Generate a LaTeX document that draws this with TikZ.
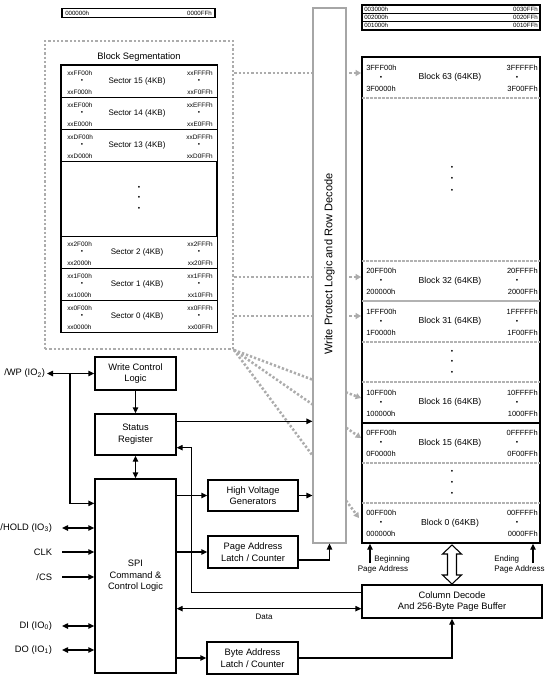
\documentclass[tikz,border=0pt]{standalone}
\usepackage{fontspec}
\setmainfont{Liberation Sans}
\usetikzlibrary{arrows.meta,calc}
\newcommand{\fs}[1]{\fontsize{#1}{#1}\selectfont}
\newcommand{\secrow}[7]{%
  \node[secbox, anchor=north west] (#1) at (61,#2) {};
  \node[saddr, anchor=west] (#1-lt) at (67,#2+8) {#4};
  \node[saddr] (#1-ld) at (82,#2+16.5) {•};
  \node[saddr, anchor=west] (#1-lb) at (67,#2+27) {#5};
  \node[saddr, anchor=east] (#1-rt) at (213,#2+8) {#6};
  \node[saddr] (#1-rd) at (199,#2+16.5) {•};
  \node[saddr, anchor=east] (#1-rb) at (213,#2+27) {#7};
  \node[slabel] (#1-lab) at (137,#2+16.5) {#3};
}
\newcommand{\blkrow}[7]{%
  \node[baddr, anchor=west] (#1-lt) at (366,#2-10) {#4};
  \node[bdot] (#1-ld) at (381,#2) {•};
  \node[baddr, anchor=west] (#1-lb) at (366,#2+11) {#5};
  \node[baddr, anchor=east] (#1-rt) at (538,#2-10) {#6};
  \node[bdot] (#1-rd) at (517,#2) {•};
  \node[baddr, anchor=east] (#1-rb) at (538,#2+11) {#7};
  \node[blabel] (#1-lab) at (450,#2) {#3};
}
\begin{document}
\begin{tikzpicture}[x=0.75pt,y=-0.75pt,
 box/.style={draw, fill=white, line width=1pt, align=center, inner sep=0pt, font=\fontsize{7}{8.7}\selectfont},
 arr/.style={line width=1pt, -{Triangle[length=4.5pt,width=4pt]}},
 darr/.style={line width=1pt, {Triangle[length=4.5pt,width=4pt]}-{Triangle[length=4.5pt,width=4pt]}},
 dotln/.style={draw=gray!65, line width=1.9pt, dash pattern=on 1.7pt off 1.5pt},
 dotarr/.style={dotln, -{Triangle[length=4pt,width=4.5pt]}},
 dashln/.style={draw=gray!60, line width=0.8pt, dash pattern=on 2pt off 1pt},
 secbox/.style={draw, fill=white, line width=1pt, minimum width=117pt, minimum height=24pt, inner sep=0pt},
 saddr/.style={font=\fs{4.8}, inner sep=0pt},
 slabel/.style={font=\fs{6}, inner sep=0pt},
 baddr/.style={font=\fs{5.6}, inner sep=0pt},
 blabel/.style={font=\fs{6.5}, inner sep=0pt},
 bdot/.style={font=\fs{5}, inner sep=0pt},
 pinl/.style={font=\fs{7}, inner sep=0pt, anchor=east, outer xsep=7.5pt},
 note/.style={font=\fs{6}, inner sep=0pt},
 tinybox/.style={draw, line width=0.9pt, inner sep=0pt, minimum height=6.2pt},
 tinyt/.style={font=\fs{4.6}, inner sep=0pt},
]
\useasboundingbox[fill=white] (0,0) rectangle (547,682);

% top fragments
\node[tinybox, minimum width=114.75pt] (frag) at (138.5,13) {};
\node[tinyt, anchor=west] (frag-l) at (65,13) {000000h};
\node[tinyt, anchor=east] (frag-r) at (212,13) {0000FFh};
\node[tinybox, minimum width=133.5pt] (tr1) at (451,9.2) {};
\node[tinybox, minimum width=133.5pt] (tr2) at (451,17.5) {};
\node[tinybox, minimum width=133.5pt] (tr3) at (451,25.8) {};
\node[tinyt, anchor=west] (tr1-l) at (364,9.2) {003000h};
\node[tinyt, anchor=east] (tr1-r) at (538,9.2) {0030FFh};
\node[tinyt, anchor=west] (tr2-l) at (364,17.5) {002000h};
\node[tinyt, anchor=east] (tr2-r) at (538,17.5) {0020FFh};
\node[tinyt, anchor=west] (tr3-l) at (364,25.8) {001000h};
\node[tinyt, anchor=east] (tr3-r) at (538,25.8) {0010FFh};

% block segmentation
\node[dotln, minimum width=141pt, minimum height=231pt, inner sep=0pt] (seg) at (139,195) {};
\node[font=\fs{7}, inner sep=0pt] (segtitle) at (139,57) {Block Segmentation};
\node[draw, fill=white, line width=1pt, minimum width=117pt, minimum height=200.25pt, inner sep=0pt] (sectab) at (139,198.5) {};
\secrow{s15}{65}{Sector 15 (4KB)}{xxFF00h}{xxF000h}{xxFFFFh}{xxF0FFh}
\secrow{s14}{97}{Sector 14 (4KB)}{xxEF00h}{xxE000h}{xxEFFFh}{xxE0FFh}
\secrow{s13}{129}{Sector 13 (4KB)}{xxDF00h}{xxD000h}{xxDFFFh}{xxD0FFh}
\secrow{s2}{236}{Sector 2 (4KB)}{xx2F00h}{xx2000h}{xx2FFFh}{xx20FFh}
\secrow{s1}{268}{Sector 1 (4KB)}{xx1F00h}{xx1000h}{xx1FFFh}{xx10FFh}
\secrow{s0}{300}{Sector 0 (4KB)}{xx0F00h}{xx0000h}{xx0FFFh}{xx00FFh}
\node[bdot] (sd1) at (139,188) {•};
\node[bdot] (sd2) at (139,198) {•};
\node[bdot] (sd3) at (139,209) {•};

% memory array
\node[draw, fill=white, line width=1pt, minimum width=133.5pt, minimum height=364.5pt, inner sep=0pt] (mem) at (451,300) {};
\foreach \yy in {98,261,342,382,463,503} \draw[dashln] (362,\yy) -- (540,\yy);
\draw[gray!60, line width=1pt] (362,301) -- (540,301);
\draw[line width=1pt] (362,423) -- (540,423);
\blkrow{b63}{77.5}{Block 63 (64KB)}{3FFF00h}{3F0000h}{3FFFFFh}{3F00FFh}
\blkrow{b32}{281}{Block 32 (64KB)}{20FF00h}{200000h}{20FFFFh}{2000FFh}
\blkrow{b31}{321.5}{Block 31 (64KB)}{1FFF00h}{1F0000h}{1FFFFFh}{1F00FFh}
\blkrow{b16}{402.5}{Block 16 (64KB)}{10FF00h}{100000h}{10FFFFh}{1000FFh}
\blkrow{b15}{443}{Block 15 (64KB)}{0FFF00h}{0F0000h}{0FFFFFh}{0F00FFh}
\blkrow{b0}{523}{Block 0 (64KB)}{00FF00h}{000000h}{00FFFFh}{0000FFh}
\foreach \yy [count=\i] in {168,179,191} \node[bdot] (md1-\i) at (452,\yy) {•};
\foreach \yy [count=\i] in {352,362,373} \node[bdot] (md2-\i) at (452,\yy) {•};
\foreach \yy [count=\i] in {472,483,494} \node[bdot] (md3-\i) at (452,\yy) {•};

% dotted arrows
\coordinate (t63) at (361,73);
\coordinate (t32) at (361,277);
\coordinate (t31) at (361,316);
\coordinate (t16) at (361,398);
\coordinate (t15) at (361,438);
\coordinate (t0) at (359,518);
\coordinate (segc) at (234,350);
\draw[dotarr] (seg.east |- t63) -- (t63);
\draw[dotarr] (seg.east |- t32) -- (t32);
\draw[dotarr] (seg.east |- t31) -- (t31);
\draw[dotarr] (segc) -- (t16);
\draw[dotarr] (segc) -- (t15);
\draw[dotarr] (segc) -- (t0);

% write protect box
\node[draw=gray!70, fill=white, line width=0.8pt, minimum width=24.75pt, minimum height=401.25pt, inner sep=0pt] (wp) at (329.5,275.5) {};
\node[rotate=90, font=\fs{8.3}, inner sep=0pt] (wptext) at (329.5,264) {Write Protect Logic and Row Decode};

% left blocks
\node[box, minimum width=60.75pt, minimum height=24.75pt] (wcl) at (135.5,373.5) {Write Control\\Logic};
\node[box, minimum width=60.75pt, minimum height=30.75pt] (sr) at (135.5,434.5) {Status\\Register};
\node[box, minimum width=60.75pt, minimum height=145.5pt] (spi) at (135.5,576) {SPI\\Command \&\\Control Logic};
\node[box, minimum width=67.5pt, minimum height=23.25pt] (hvg) at (253,495.5) {High Voltage\\Generators};
\node[box, minimum width=67.5pt, minimum height=24pt] (pal) at (253,552) {Page Address\\Latch / Counter};
\node[box, minimum width=68.25pt, minimum height=24pt] (bal) at (252.5,658) {Byte Address\\Latch / Counter};
\node[box, minimum width=135pt, minimum height=24.75pt] (cd) at (452,601.5) {Column Decode\\And 256-Byte Page Buffer};

% pins
\node[pinl, outer xsep=1.5pt] (wpl) at (47,373.5) {/WP (IO\textsubscript{2})};
\node[pinl] (hold) at (62,528) {/HOLD (IO\textsubscript{3})};
\node[pinl] (clk) at (62,552) {CLK};
\node[pinl] (cs) at (62,577) {/CS};
\node[pinl] (di) at (62,626) {DI (IO\textsubscript{0})};
\node[pinl] (do) at (62,650) {DO (IO\textsubscript{1})};
\draw[darr] (wpl.east) -- (wcl.west);
\coordinate (wpj) at (70,373.5);
\draw[arr] (wpj) |- ([yshift=-18.75pt]spi.north west);
\draw[darr] (hold.east) -- (hold.east -| spi.west);
\draw[arr] (clk.east) -- (clk.east -| spi.west);
\draw[arr] (cs.east) -- (cs.east -| spi.west);
\draw[darr] (di.east) -- (di.east -| spi.west);
\draw[darr] (do.east) -- (do.east -| spi.west);

% internal connectors
\draw[arr] (wcl.south) -- (sr.north);
\draw[darr] (sr.south) -- (spi.north);
\draw[arr] ([yshift=-6pt]sr.north east) -- ([yshift=-6pt]sr.north east -| wp.west);
\draw[arr] ([yshift=-6pt]cd.north west) -- ++(-170,0) |- ([yshift=6pt]sr.south east);
\draw[darr] ([yshift=7.5pt]cd.south west -| spi.east) -- ([yshift=7.5pt]cd.south west);
\node[note] (datal) at (264,617) {Data};
\draw[arr] (spi.east |- hvg.west) -- (hvg.west);
\draw[arr] (hvg.east) -- (hvg.east -| wp.west);
\draw[arr] (spi.east |- pal.west) -- (pal.west);
\draw[arr] ([yshift=-6pt]pal.east) -| (wp.south);
\draw[arr] (spi.east |- bal.west) -- (bal.west);
\draw[arr] (bal.east) -| (cd.south);

% hollow double arrow
\draw[line width=0.8pt, fill=white] ([yshift=-1pt]mem.south -| cd.north) -- ++(9.5,9) -- ++(-5,0) -- ++(0,21) -- ++(5,0) -- ++(-9.5,9) -- ++(-9.5,-9) -- ++(5,0) -- ++(0,-21) -- ++(-5,0) -- cycle;

% page address arrows
\coordinate (bgn) at (370,563);
\coordinate (edn) at (533,563);
\draw[arr] (bgn) -- (bgn |- mem.south);
\draw[arr] (edn) -- (edn |- mem.south);
\node[note, anchor=west] (bgtxt) at (374,559) {Beginning};
\node[note] (bgpa) at (383,569.5) {Page Address};
\node[note, anchor=west] (edtxt) at (494,559) {Ending};
\node[note, anchor=west] (edpa) at (494,569.5) {Page Address};
\end{tikzpicture}
\end{document}
